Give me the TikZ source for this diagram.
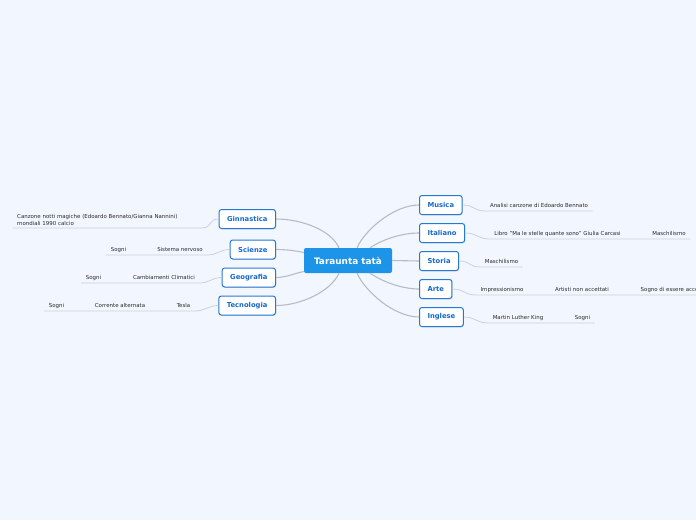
\documentclass[tikz,border=0pt]{standalone}
\usepackage{fontspec}
\setmainfont{DejaVu Sans}
\usetikzlibrary{calc,shadows}

\definecolor{bgblue}{RGB}{242,246,254}
\definecolor{rootblue}{RGB}{28,148,232}
\definecolor{boxblue}{RGB}{38,120,214}
\definecolor{txtblue}{RGB}{22,104,206}
\definecolor{linkgray}{RGB}{182,188,198}
\definecolor{leafgray}{RGB}{204,208,216}
\definecolor{leaftxt}{RGB}{40,40,40}

\begin{document}
\begin{tikzpicture}[
    x=1pt, y=-1pt,
    root/.style={rectangle, rounded corners=2pt, fill=rootblue, text=white,
      font=\fontsize{8.9}{10}\selectfont\bfseries, minimum width=88pt, minimum height=25pt},
    topic/.style={rectangle, rounded corners=2.5pt, draw=boxblue, line width=1pt, fill=white,
      text=txtblue, font=\fontsize{6.8}{8}\selectfont\bfseries, minimum height=19pt, inner xsep=8pt,
      drop shadow={shadow xshift=0.6pt, shadow yshift=-0.8pt, opacity=0.25}},
    leafbase/.style={font=\fontsize{5.45}{7}\selectfont, text=leaftxt, inner xsep=4.5pt, inner ysep=2pt},
    leaf/.style={leafbase, text depth=1.5pt},
    link/.style={draw=linkgray, line width=1.1pt},
    twig/.style={draw=leafgray, line width=0.8pt}
  ]

  \useasboundingbox (0,0) rectangle (696,520);
  \clip (0,0) rectangle (696,520);
  \fill[bgblue] (0,0) rectangle (696,520);

  %% ---- central topic ----
  \node[root] (tata) at (348,260.5) {Taraunta tatà};

  %% ---- right branches ----
  \node[topic, anchor=west] (musica)   at (419,205)   {Musica};
  \node[topic, anchor=west] (italiano) at (419,233)   {Italiano};
  \node[topic, anchor=west] (storia)   at (419,261)   {Storia};
  \node[topic, anchor=west] (arte)     at (419,289)   {Arte};
  \node[topic, anchor=west] (inglese)  at (419,317)   {Inglese};

  %% ---- left branches ----
  \node[topic, anchor=east] (ginnastica) at (276,219)   {Ginnastica};
  \node[topic, anchor=east] (scienze)    at (276,249.5) {Scienze};
  \node[topic, anchor=east] (geografia)  at (276,277.5) {Geografia};
  \node[topic, anchor=east] (tecnologia) at (276,305.5) {Tecnologia};

  %% ---- links from the centre ----
  \draw[link] ($(tata.north)+(9,0)$)  .. controls +(8,-18) and +(-25,0) .. (musica.west);
  \draw[link] ($(tata.north)+(22,0)$) .. controls +(12,-8) and +(-18,0) .. (italiano.west);
  \draw[link] (tata.east) -- (storia.west);
  \draw[link] ($(tata.south)+(22,0)$) .. controls +(12,8) and +(-18,0) .. (arte.west);
  \draw[link] ($(tata.south)+(9,0)$)  .. controls +(8,18) and +(-25,0) .. (inglese.west);
  \draw[link] ($(tata.north)+(-9,0)$) .. controls +(-8,-18) and +(25,0) .. (ginnastica.east);
  \draw[link] ($(tata.west)+(0,-8)$)  .. controls +(-10,-2) and +(10,0) .. (scienze.east);
  \draw[link] ($(tata.west)+(0,11)$)  .. controls +(-10,2) and +(10,0) .. (geografia.east);
  \draw[link] ($(tata.south)+(-9,0)$) .. controls +(-8,18) and +(25,0) .. (tecnologia.east);

  %% ---- leaves, right ----
  \node[leaf, anchor=south] (bennato) at (539,211)   {Analisi canzone di Edoardo Bennato};
  \node[leaf, anchor=south] (libro)   at (557.5,239) {Libro "Ma le stelle quante sono" Giulia Carcasi};
  \node[leaf, anchor=south] (maschA)  at (669,239)   {Maschilismo};
  \node[leaf, anchor=south] (maschB)  at (501.5,267) {Maschilismo};
  \node[leaf, anchor=south] (impress) at (502,295)   {Impressionismo};
  \node[leaf, anchor=south] (artisti) at (582,295)   {Artisti non accettati};
  \node[leaf, anchor=south west] (sogno) at (636,295) {Sogno di essere accettati};
  \node[leaf, anchor=south] (king)    at (518,323)   {Martin Luther King};
  \node[leaf, anchor=south] (sogniA)  at (582.5,323) {Sogni};

  %% ---- leaves, left ----
  \node[leafbase, anchor=south west, text width=180pt, align=left] (canzone) at (12.5,228)
    {Canzone notti magiche (Edoardo Bennato/Gianna Nannini)\\mondiali 1990 calcio};
  \node[leaf, anchor=south] (nervoso)  at (180,255)   {Sistema nervoso};
  \node[leaf, anchor=south] (sogniB)   at (118.5,255) {Sogni};
  \node[leaf, anchor=south] (clima)    at (164,283)   {Cambiamenti Climatici};
  \node[leaf, anchor=south] (sogniC)   at (93.5,283)  {Sogni};
  \node[leaf, anchor=south] (tesla)    at (183.5,311) {Tesla};
  \node[leaf, anchor=south] (corrente) at (120,311)   {Corrente alternata};
  \node[leaf, anchor=south] (sogniD)   at (56.5,311)  {Sogni};

  %% ---- twigs to the leaves ----
  \draw[twig] (musica.east) .. controls +(12,0) and +(-12,0) .. (bennato.south west) -- (bennato.south east);
  \draw[twig] (italiano.east) .. controls +(12,0) and +(-12,0) .. (libro.south west) -- (libro.south east)
    -- (maschA.south west) -- (maschA.south east);
  \draw[twig] (storia.east) .. controls +(12,0) and +(-12,0) .. (maschB.south west) -- (maschB.south east);
  \draw[twig] (arte.east) .. controls +(12,0) and +(-12,0) .. (impress.south west) -- (impress.south east)
    -- (artisti.south west) -- (artisti.south east) -- (sogno.south west) -- (sogno.south east);
  \draw[twig] (inglese.east) .. controls +(12,0) and +(-12,0) .. (king.south west) -- (king.south east)
    -- (sogniA.south west) -- (sogniA.south east);

  \draw[twig] (ginnastica.west) .. controls +(-10,0) and +(10,0) .. (canzone.south east) -- (canzone.south west);
  \draw[twig] (scienze.west) .. controls +(-10,0) and +(10,0) .. (nervoso.south east) -- (nervoso.south west)
    -- (sogniB.south east) -- (sogniB.south west);
  \draw[twig] (geografia.west) .. controls +(-10,0) and +(10,0) .. (clima.south east) -- (clima.south west)
    -- (sogniC.south east) -- (sogniC.south west);
  \draw[twig] (tecnologia.west) .. controls +(-10,0) and +(10,0) .. (tesla.south east) -- (tesla.south west)
    -- (corrente.south east) -- (corrente.south west) -- (sogniD.south east) -- (sogniD.south west);

\end{tikzpicture}
\end{document}
